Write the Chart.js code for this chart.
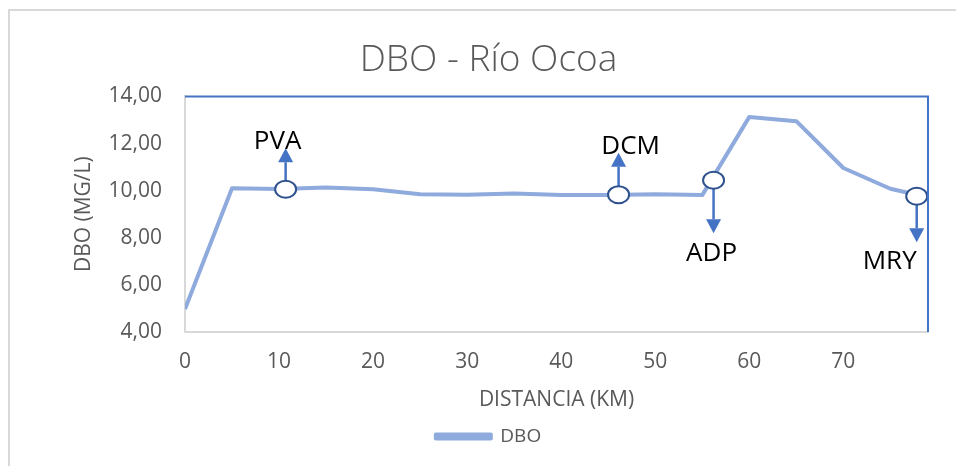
<!DOCTYPE html>
<html>
<head>
<meta charset="utf-8">
<script src="https://cdn.jsdelivr.net/npm/chart.js@4"></script>
<style>
  html, body { margin: 0; padding: 0; background: #fff; }
  #wrap { width: 956px; height: 466px; }
</style>
</head>
<body>
<div id="wrap"><canvas id="dboChart"></canvas></div>
<script>
// Perfil de DBO a lo largo del río
const distancias = [0, 5, 10, 15, 20, 25, 30, 35, 40, 45, 50, 55, 60, 65, 70, 75, 79];
const valoresDBO = [4.98, 10.10, 10.07, 10.13, 10.06, 9.85, 9.83, 9.88, 9.82, 9.82, 9.85, 9.81, 13.13, 12.95, 10.96, 10.08, 9.72];

// Estaciones de muestreo marcadas con circulo y flecha
const estaciones = ['PVA', 'DCM', 'ADP', 'MRY'];
const estacionesKm = [10.7, 46.1, 56.2, 77.8];
const estacionesDBO = [10.06, 9.83, 10.44, 9.76];
const estacionesDir = ['up', 'up', 'down', 'down'];

// Marcas de los ejes
const ticksX = [0, 10, 20, 30, 40, 50, 60, 70];
const ticksY = [4, 6, 8, 10, 12, 14];

const gris = '#595959';
const fuente = "'Open Sans', sans-serif";

// Borde exterior y borde azul del area de trazado
const bordes = {
  id: 'bordes',
  beforeDraw(chart) {
    const ctx = chart.ctx;
    ctx.save();
    ctx.fillStyle = '#fff';
    ctx.fillRect(0, 0, chart.width, chart.height);
    ctx.strokeStyle = '#D9D9D9';
    ctx.lineWidth = 2;
    ctx.strokeRect(9, 10, 1200, 1200);
    ctx.restore();
  },
  afterDraw(chart) {
    const {ctx, chartArea: a} = chart;
    ctx.save();
    ctx.strokeStyle = '#4472C4';
    ctx.lineWidth = 2;
    ctx.beginPath();
    ctx.moveTo(a.left, a.top);
    ctx.lineTo(a.right, a.top);
    ctx.lineTo(a.right, a.bottom);
    ctx.stroke();
    ctx.restore();
  }
};

// Circulos, flechas y nombres de estaciones
const marcadores = {
  id: 'marcadores',
  afterDatasetsDraw(chart) {
    const {ctx, scales: {x, y}} = chart;
    const largo = [41, 42, 53, 46];
    const desplaz = [[-8, -48], [12, -48], [-2, 73], [-27, 65]];
    ctx.save();
    estaciones.forEach((nombre, i) => {
      const px = x.getPixelForValue(estacionesKm[i]);
      const py = y.getPixelForValue(estacionesDBO[i]);
      const d = estacionesDir[i] === 'up' ? -1 : 1;
      const ry = 8.5, rx = 10.5;
      const tip = py + d * largo[i];
      const base = tip - d * 14;
      // flecha
      ctx.strokeStyle = '#4472C4';
      ctx.fillStyle = '#4472C4';
      ctx.lineWidth = 2.5;
      ctx.beginPath();
      ctx.moveTo(px, py + d * ry);
      ctx.lineTo(px, base);
      ctx.stroke();
      ctx.beginPath();
      ctx.moveTo(px, tip);
      ctx.lineTo(px - 7.5, base);
      ctx.lineTo(px + 7.5, base);
      ctx.closePath();
      ctx.fill();
      // circulo
      ctx.beginPath();
      ctx.ellipse(px, py, rx, ry, 0, 0, Math.PI * 2);
      ctx.fillStyle = '#fff';
      ctx.fill();
      ctx.strokeStyle = '#2F528F';
      ctx.lineWidth = 2;
      ctx.stroke();
      // etiqueta
      ctx.fillStyle = '#000';
      ctx.font = "26px " + fuente;
      ctx.textAlign = 'center';
      ctx.textBaseline = 'middle';
      ctx.fillText(nombre, px + desplaz[i][0], py + desplaz[i][1]);
    });
    ctx.restore();
  }
};

const ctx = document.getElementById('dboChart').getContext('2d');
const dboChart = new Chart(ctx, {
  type: 'line',
  data: {
    datasets: [{
      label: 'DBO',
      data: distancias.map((d, i) => ({x: d, y: valoresDBO[i]})),
      borderColor: '#8FAADC',
      backgroundColor: '#8FAADC',
      borderWidth: 4,
      pointRadius: 0,
      tension: 0,
      borderJoinStyle: 'round'
    }]
  },
  options: {
    responsive: true,
    maintainAspectRatio: false,
    animation: false,
    layout: { padding: { left: 49, right: 28, top: 0, bottom: 10 } },
    plugins: {
      title: {
        display: true,
        text: 'DBO - Río Ocoa',
        color: gris,
        font: { family: fuente, size: 37, weight: '300' },
        padding: { top: 38, bottom: 14 }
      },
      legend: {
        position: 'bottom',
        labels: {
          color: gris,
          font: { family: fuente, size: 19 },
          boxWidth: 55,
          boxHeight: 4,
          padding: 10
        }
      },
      tooltip: { enabled: false }
    },
    scales: {
      x: {
        type: 'linear',
        min: 0,
        max: 79,
        afterBuildTicks: s => { s.ticks = ticksX.map(v => ({value: v})); },
        afterFit: s => { s.height = 85; },
        grid: { display: false, drawTicks: false },
        border: { display: true, color: '#D9D9D9', width: 2 },
        ticks: { color: gris, font: { family: fuente, size: 21 }, padding: 17, maxRotation: 0 },
        title: {
          display: true,
          text: 'DISTANCIA (KM)',
          color: gris,
          font: { family: fuente, size: 21 },
          padding: { top: 0, bottom: 4 }
        }
      },
      y: {
        min: 4,
        max: 14,
        afterBuildTicks: s => { s.ticks = ticksY.map(v => ({value: v})); },
        afterFit: s => { s.width = 136; },
        grid: { display: false, drawTicks: false },
        border: { display: true, color: '#D9D9D9', width: 2 },
        ticks: {
          color: gris,
          font: { family: fuente, size: 21 },
          padding: 23,
          callback: v => v.toFixed(2).replace('.', ',')
        },
        title: {
          display: true,
          text: 'DBO (MG/L)',
          color: gris,
          font: { family: fuente, size: 21 },
          padding: { top: 22, bottom: 0 }
        }
      }
    }
  },
  plugins: [bordes, marcadores]
});
</script>
</body>
</html>
